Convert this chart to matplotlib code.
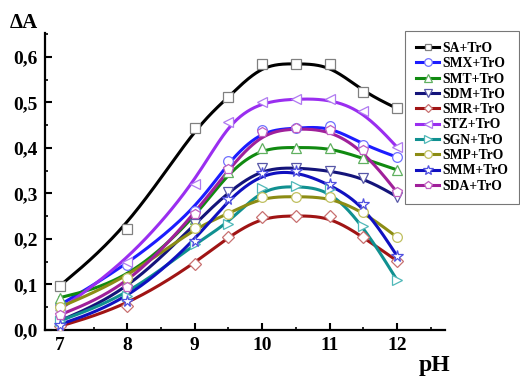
import numpy as np
import matplotlib
matplotlib.use("Agg")
import matplotlib.pyplot as plt
from matplotlib.ticker import FuncFormatter, MultipleLocator

ph = [7, 8, 9, 9.5, 10, 10.5, 11, 11.5, 12]
labels = ["SA+TrO", "SMX+TrO", "SMT+TrO", "SDM+TrO", "SMR+TrO",
          "STZ+TrO", "SGN+TrO", "SMP+TrO", "SMM+TrO", "SDA+TrO"]
sa  = [0.097, 0.222, 0.445, 0.511, 0.585, 0.585, 0.584, 0.523, 0.487]
smx = [0.055, 0.143, 0.262, 0.371, 0.440, 0.443, 0.449, 0.407, 0.380]
smt = [0.071, 0.108, 0.245, 0.348, 0.401, 0.401, 0.401, 0.377, 0.352]
sdm = [0.020, 0.085, 0.233, 0.304, 0.355, 0.357, 0.350, 0.335, 0.293]
smr = [0.008, 0.053, 0.146, 0.205, 0.249, 0.251, 0.250, 0.204, 0.152]
stz = [0.045, 0.150, 0.321, 0.458, 0.502, 0.508, 0.508, 0.481, 0.402]
sgn = [0.020, 0.075, 0.190, 0.234, 0.313, 0.316, 0.310, 0.229, 0.110]
smp = [0.050, 0.114, 0.225, 0.255, 0.293, 0.293, 0.292, 0.260, 0.204]
smm = [0.012, 0.064, 0.195, 0.288, 0.345, 0.350, 0.320, 0.276, 0.163]
sda = [0.033, 0.094, 0.255, 0.353, 0.435, 0.443, 0.440, 0.395, 0.303]
series = [sa, smx, smt, sdm, smr, stz, sgn, smp, smm, sda]

line_colors = ["#000000", "#1c1cff", "#108a10", "#14147a", "#a01414",
               "#9a2ef0", "#109090", "#8c8c14", "#1010c0", "#a0209a"]
edge_colors = ["#808080", "#7070ff", "#60b060", "#5858a8", "#c87070",
               "#b07af0", "#50b8b8", "#c0c060", "#5050e0", "#c060c0"]
markers = ["s", "o", "^", "v", "D", "<", ">", "o", "*", "p"]
msizes = [6.5, 7, 7.5, 7.5, 6, 7.5, 7.5, 7, 8.5, 7.5]

serif = "Liberation Serif"
plt.rcParams["font.family"] = serif
plt.rcParams["font.weight"] = "bold"


def bspline(xs, ys, n=40):
    px = np.array([xs[0]] * 2 + list(xs) + [xs[-1]] * 2, float)
    py = np.array([ys[0]] * 2 + list(ys) + [ys[-1]] * 2, float)
    t = np.linspace(0, 1, n)
    b0 = (1 - t) ** 3 / 6
    b1 = (3 * t ** 3 - 6 * t ** 2 + 4) / 6
    b2 = (-3 * t ** 3 + 3 * t ** 2 + 3 * t + 1) / 6
    b3 = t ** 3 / 6
    ox, oy = [], []
    for i in range(len(px) - 3):
        ox.append(b0 * px[i] + b1 * px[i + 1] + b2 * px[i + 2] + b3 * px[i + 3])
        oy.append(b0 * py[i] + b1 * py[i + 1] + b2 * py[i + 2] + b3 * py[i + 3])
    return np.concatenate(ox), np.concatenate(oy)


fig = plt.figure(figsize=(5.2, 3.78), dpi=100)
ax = fig.add_axes([0.0865, 0.127, 0.769, 0.786])

handles = []
for ys, lab, lc, ec, mk, ms in zip(series, labels, line_colors, edge_colors, markers, msizes):
    cx, cy = bspline(ph, ys)
    ax.plot(cx, cy, color=lc, lw=2.2, zorder=2)
    ax.plot(ph, ys, linestyle="none", marker=mk, markersize=ms,
            markerfacecolor="white", markeredgecolor=ec, markeredgewidth=0.9, zorder=3)
    h, = ax.plot([], [], color=lc, lw=2.2, marker=mk, markersize=ms - 1.5,
                 markerfacecolor="white", markeredgecolor=ec, markeredgewidth=0.9)
    handles.append(h)

ax.set_xlim(6.78, 12.71)
ax.set_ylim(0, 0.653)
ax.spines["top"].set_visible(False)
ax.spines["right"].set_visible(False)
for s in ("left", "bottom"):
    ax.spines[s].set_linewidth(1.6)

ax.set_xticks([7, 8, 9, 10, 11, 12])
ax.xaxis.set_minor_locator(MultipleLocator(0.5))
ax.set_yticks([0, 0.1, 0.2, 0.3, 0.4, 0.5, 0.6])
ax.yaxis.set_minor_locator(MultipleLocator(0.05))
ax.yaxis.set_major_formatter(FuncFormatter(lambda v, p: f"{v:.1f}".replace(".", ",")))
ax.tick_params(which="major", direction="in", length=5, width=1.5, labelsize=14, pad=5)
ax.tick_params(which="minor", direction="in", length=2.5, width=1.2)
for lbl in ax.get_xticklabels() + ax.get_yticklabels():
    lbl.set_fontweight("bold")
    lbl.set_fontfamily(serif)

fig.text(0.018, 0.925, "\u0394A", fontsize=15, fontweight="bold", family=serif)
fig.text(0.805, 0.018, "pH", fontsize=17, fontweight="bold", family=serif)

leg = fig.legend(handles=handles, labels=labels, loc="upper left",
                 bbox_to_anchor=(0.779, 0.918), frameon=True, fancybox=False,
                 prop={"family": serif, "weight": "bold", "size": 9.8},
                 handlelength=1.7, handletextpad=0.25, labelspacing=0.17,
                 borderpad=0.8, borderaxespad=0, numpoints=1)
leg.get_frame().set_edgecolor("#555555")
leg.get_frame().set_linewidth(0.8)

fig.savefig("out.png", dpi=100)
